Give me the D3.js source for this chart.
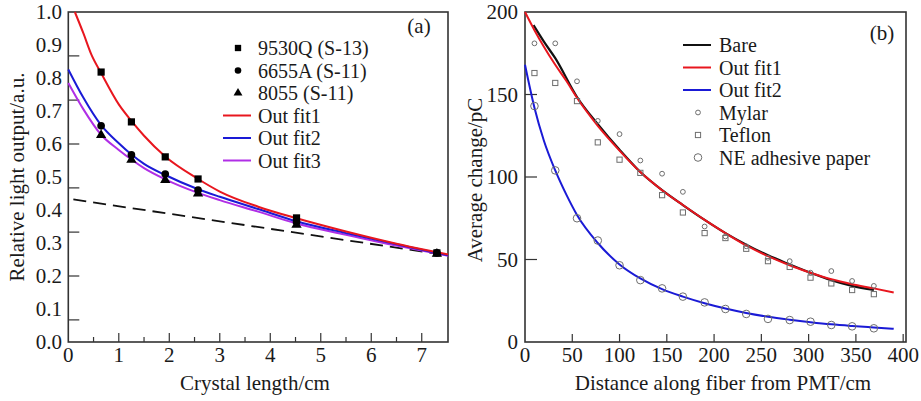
<!DOCTYPE html>
<html><head><meta charset="utf-8">
<script src="https://cdn.jsdelivr.net/npm/d3@7/dist/d3.min.js"></script>
<style>
html,body{margin:0;padding:0;background:#fff;}
svg text{font-family:"Liberation Serif","Times New Roman",serif;fill:#1a1a1a;}
</style></head>
<body><svg id="c" width="921" height="401"></svg>
<script>
// ---------- Panel (a) data ----------
const crystalLength = [0.65, 1.25, 1.92, 2.57, 4.52, 7.3];
const pmt9530Q = [0.818, 0.667, 0.561, 0.494, 0.376, 0.270];
const pmt6655A = [0.655, 0.567, 0.509, 0.460, 0.364, 0.270];
const pmt8055  = [0.627, 0.552, 0.491, 0.450, 0.355, 0.267];
const fitX_a   = [0.13, 0.3, 0.46, 0.65, 1.0, 1.25, 1.5, 1.92, 2.57, 3.0, 3.76, 4.52, 5.5, 6.5, 7.3, 7.52];
const fit1_a   = [1.0, 0.935, 0.87, 0.815, 0.72, 0.67, 0.625, 0.562, 0.494, 0.456, 0.41, 0.375, 0.335, 0.298, 0.272, 0.265];
const fitX_b   = [0, 0.3, 0.65, 1.0, 1.25, 1.5, 1.92, 2.57, 3.0, 3.76, 4.52, 5.5, 6.5, 7.3, 7.52];
const fit2_a   = [0.826, 0.74, 0.657, 0.602, 0.568, 0.54, 0.506, 0.463, 0.44, 0.403, 0.366, 0.33, 0.296, 0.27, 0.263];
const fit3_a   = [0.785, 0.705, 0.628, 0.582, 0.553, 0.527, 0.493, 0.452, 0.43, 0.395, 0.359, 0.325, 0.292, 0.268, 0.261];
const dashX    = [0.1, 7.45];
const dashY    = [0.432, 0.264];
const yTickLabels_a = [0.0, 0.1, 0.2, 0.3, 0.4, 0.5, 0.6, 0.7, 0.8, 0.9, 1.0];
const yTickMarks_a  = [0.067, 0.2, 0.333, 0.467, 0.6, 0.733, 0.867];
const xTickLabels_a = [0, 1, 2, 3, 4, 5, 6, 7];
const xMinorTicks_a = [0.5, 1.5, 2.5, 3.5, 4.5, 5.5, 6.5];
const legendA = ["9530Q (S-13)", "6655A (S-11)", "8055 (S-11)", "Out fit1", "Out fit2", "Out fit3"];

// ---------- Panel (b) data ----------
const distance = [10, 32, 55, 77, 100, 122, 145, 167, 190, 212, 234, 257, 280, 302, 324, 346, 369];
const mylar  = [181, 181, 158, 134, 126, 110, 102, 91, 70, 64, 58, 51, 49, 42, 43, 37, 34];
const teflon = [163, 157, 146, 121, 110.5, 102.5, 89, 78.5, 66, 63, 56.5, 49, 45.5, 39, 35.5, 31.5, 29];
const neAdhesive = [143, 104, 75, 61.5, 46.5, 37.5, 32.5, 27.5, 24, 20, 17, 14, 13.3, 12.3, 10.3, 9.5, 8.3];
const bareX  = [9, 20, 32, 55, 77, 100, 122, 145, 167, 190, 212, 234, 257, 280, 302, 324, 346, 369];
const bareY  = [192, 182, 172, 148.5, 132, 116.5, 103, 92, 83, 74, 66, 59, 52.5, 47, 42, 37.5, 34, 31.5];
const fitX_r = [0, 10, 20, 32, 44, 55, 77, 100, 122, 145, 167, 190, 212, 234, 257, 280, 302, 324, 346, 369, 390];
const fit1_b = [200, 189, 179, 168, 158, 148, 131, 116, 103, 92, 83, 74, 66, 58.5, 52, 46.5, 42, 38, 35, 32.5, 30];
const fit2_b = [168, 142, 122, 104, 89, 77, 60, 47, 38.5, 32, 27.5, 23.5, 20.3, 17.6, 15.3, 13.5, 12, 10.7, 9.7, 8.8, 8];
const yTicks_b = [0, 50, 100, 150, 200];
const xTicks_b = [0, 50, 100, 150, 200, 250, 300, 350, 400];
const legendB = ["Bare", "Out fit1", "Out fit2", "Mylar", "Teflon", "NE adhesive paper"];

const RED = "#e8161e", BLUE = "#1a1ad6", MAG = "#b02ee6", BLK = "#111", GRAY = "#6e6e6e", FRAME = "#333";
const FS = 21, LFS = 20, LSTEP = 22.5;

const svg = d3.select("#c");

// ================= Panel (a) =================
const xa = d3.scaleLinear().domain([0, 7.52]).range([68.3, 448]);
const ya = d3.scaleLinear().domain([0, 1]).range([342, 12]);
const ga = svg.append("g");

ga.append("rect").attr("x", xa(0)).attr("y", ya(1)).attr("width", xa(7.52) - xa(0)).attr("height", ya(0) - ya(1))
  .attr("fill", "none").attr("stroke", FRAME).attr("stroke-width", 1.6);

ga.selectAll(".ytm").data(yTickMarks_a).join("line")
  .attr("x1", xa(0)).attr("x2", xa(0) + 11).attr("y1", d => ya(d)).attr("y2", d => ya(d))
  .attr("stroke", FRAME).attr("stroke-width", 1.2);
ga.selectAll(".ytl").data(yTickLabels_a).join("text")
  .attr("x", 62).attr("y", d => ya(d)).attr("dy", "0.35em").attr("text-anchor", "end")
  .attr("font-size", FS).text(d => d.toFixed(1));

ga.selectAll(".xtm").data(xTickLabels_a.filter(d => d > 0)).join("line")
  .attr("x1", d => xa(d)).attr("x2", d => xa(d)).attr("y1", ya(0)).attr("y2", ya(0) - 9)
  .attr("stroke", FRAME).attr("stroke-width", 1.2);
ga.selectAll(".xtn").data(xMinorTicks_a).join("line")
  .attr("x1", d => xa(d)).attr("x2", d => xa(d)).attr("y1", ya(0)).attr("y2", ya(0) - 5)
  .attr("stroke", FRAME).attr("stroke-width", 1.2);
ga.selectAll(".xtl").data(xTickLabels_a).join("text")
  .attr("x", d => xa(d)).attr("y", 362).attr("text-anchor", "middle")
  .attr("font-size", FS).text(d => d);

ga.append("text").attr("x", 255).attr("y", 390).attr("text-anchor", "middle").attr("font-size", FS).text("Crystal length/cm");
ga.append("text").attr("transform", "translate(24,177) rotate(-90)").attr("text-anchor", "middle")
  .attr("font-size", FS).text("Relative light output/a.u.");
ga.append("text").attr("x", 419).attr("y", 33).attr("text-anchor", "middle").attr("font-size", FS).text("(a)");

const lineA = d3.line().x(d => xa(d[0])).y(d => ya(d[1]));
ga.append("path").attr("d", lineA(d3.zip(dashX, dashY))).attr("fill", "none")
  .attr("stroke", "#111").attr("stroke-width", 1.8).attr("stroke-dasharray", "13,7");

const curveA = d3.line().x(d => xa(d[0])).y(d => ya(d[1])).curve(d3.curveMonotoneX);
ga.append("path").attr("d", curveA(d3.zip(fitX_b, fit3_a))).attr("fill", "none").attr("stroke", MAG).attr("stroke-width", 2);
ga.append("path").attr("d", curveA(d3.zip(fitX_b, fit2_a))).attr("fill", "none").attr("stroke", BLUE).attr("stroke-width", 2);
ga.append("path").attr("d", curveA(d3.zip(fitX_a, fit1_a))).attr("fill", "none").attr("stroke", RED).attr("stroke-width", 2);

const sq = d3.symbol().type(d3.symbolSquare).size(52);
const ci = d3.symbol().type(d3.symbolCircle).size(46);
const tr = d3.symbol().type(d3.symbolTriangle).size(46);
ga.selectAll(".m1").data(d3.zip(crystalLength, pmt9530Q)).join("path")
  .attr("d", sq).attr("transform", d => `translate(${xa(d[0])},${ya(d[1])})`).attr("fill", "#000");
ga.selectAll(".m2").data(d3.zip(crystalLength, pmt6655A)).join("path")
  .attr("d", ci).attr("transform", d => `translate(${xa(d[0])},${ya(d[1])})`).attr("fill", "#000");
ga.selectAll(".m3").data(d3.zip(crystalLength, pmt8055)).join("path")
  .attr("d", tr).attr("transform", d => `translate(${xa(d[0])},${ya(d[1])})`).attr("fill", "#000");

legendA.forEach((t, i) => {
  const y = 48 + i * LSTEP;
  if (i < 3) {
    ga.append("path").attr("d", d3.symbol().type([d3.symbolSquare, d3.symbolCircle, d3.symbolTriangle][i]).size(i === 0 ? 40 : 34))
      .attr("transform", `translate(238,${y})`).attr("fill", "#000");
  } else {
    ga.append("line").attr("x1", 223).attr("x2", 251).attr("y1", y).attr("y2", y)
      .attr("stroke", [RED, BLUE, MAG][i - 3]).attr("stroke-width", 2);
  }
  ga.append("text").attr("x", 258).attr("y", y).attr("dy", "0.35em").attr("font-size", LFS).text(t);
});

// ================= Panel (b) =================
const xb = d3.scaleLinear().domain([0, 403]).range([525, 906]);
const yb = d3.scaleLinear().domain([0, 200]).range([342, 12]);
const gb = svg.append("g");

gb.append("rect").attr("x", xb(0)).attr("y", yb(200)).attr("width", xb(403) - xb(0)).attr("height", yb(0) - yb(200))
  .attr("fill", "none").attr("stroke", FRAME).attr("stroke-width", 1.6);

gb.selectAll(".ytm").data(yTicks_b.filter(d => d > 0 && d < 200)).join("line")
  .attr("x1", xb(0)).attr("x2", xb(0) + 12).attr("y1", d => yb(d)).attr("y2", d => yb(d))
  .attr("stroke", FRAME).attr("stroke-width", 1.2);
gb.selectAll(".ytl").data(yTicks_b).join("text")
  .attr("x", 518).attr("y", d => yb(d)).attr("dy", "0.35em").attr("text-anchor", "end")
  .attr("font-size", FS).text(d => d);
gb.selectAll(".xtm").data(xTicks_b.filter(d => d > 0)).join("line")
  .attr("x1", d => xb(d)).attr("x2", d => xb(d)).attr("y1", yb(0)).attr("y2", yb(0) - 8)
  .attr("stroke", FRAME).attr("stroke-width", 1.2);
gb.selectAll(".xtl").data(xTicks_b).join("text")
  .attr("x", d => xb(d)).attr("y", 362).attr("text-anchor", "middle")
  .attr("font-size", FS).text(d => d);

gb.append("text").attr("x", 723).attr("y", 390).attr("text-anchor", "middle").attr("font-size", FS).text("Distance along fiber from PMT/cm");
gb.append("text").attr("transform", "translate(482,180) rotate(-90)").attr("text-anchor", "middle")
  .attr("font-size", FS).text("Average change/pC");
gb.append("text").attr("x", 882).attr("y", 40).attr("text-anchor", "middle").attr("font-size", FS).text("(b)");

const curveB = d3.line().x(d => xb(d[0])).y(d => yb(d[1])).curve(d3.curveMonotoneX);
gb.append("path").attr("d", curveB(d3.zip(bareX, bareY))).attr("fill", "none").attr("stroke", BLK).attr("stroke-width", 2.2);
gb.append("path").attr("d", curveB(d3.zip(fitX_r, fit1_b))).attr("fill", "none").attr("stroke", RED).attr("stroke-width", 2);
gb.append("path").attr("d", curveB(d3.zip(fitX_r, fit2_b))).attr("fill", "none").attr("stroke", BLUE).attr("stroke-width", 2);

gb.selectAll(".my").data(d3.zip(distance, mylar)).join("circle")
  .attr("cx", d => xb(d[0])).attr("cy", d => yb(d[1])).attr("r", 2.4)
  .attr("fill", "none").attr("stroke", GRAY).attr("stroke-width", 1);
gb.selectAll(".tf").data(d3.zip(distance, teflon)).join("rect")
  .attr("x", d => xb(d[0]) - 2.6).attr("y", d => yb(d[1]) - 2.6).attr("width", 5.2).attr("height", 5.2)
  .attr("fill", "none").attr("stroke", GRAY).attr("stroke-width", 1);
gb.selectAll(".ne").data(d3.zip(distance, neAdhesive)).join("circle")
  .attr("cx", d => xb(d[0])).attr("cy", d => yb(d[1])).attr("r", 3.8)
  .attr("fill", "none").attr("stroke", GRAY).attr("stroke-width", 1);

legendB.forEach((t, i) => {
  const y = 45 + i * LSTEP;
  if (i < 3) {
    gb.append("line").attr("x1", 683).attr("x2", 711).attr("y1", y).attr("y2", y)
      .attr("stroke", [BLK, RED, BLUE][i]).attr("stroke-width", 2);
  } else if (i === 3) {
    gb.append("circle").attr("cx", 698).attr("cy", y).attr("r", 2.4).attr("fill", "none").attr("stroke", GRAY);
  } else if (i === 4) {
    gb.append("rect").attr("x", 695.4).attr("y", y - 2.6).attr("width", 5.2).attr("height", 5.2).attr("fill", "none").attr("stroke", GRAY);
  } else {
    gb.append("circle").attr("cx", 698).attr("cy", y).attr("r", 3.8).attr("fill", "none").attr("stroke", GRAY);
  }
  gb.append("text").attr("x", 719).attr("y", y).attr("dy", "0.35em").attr("font-size", LFS).text(t);
});
</script></body></html>
